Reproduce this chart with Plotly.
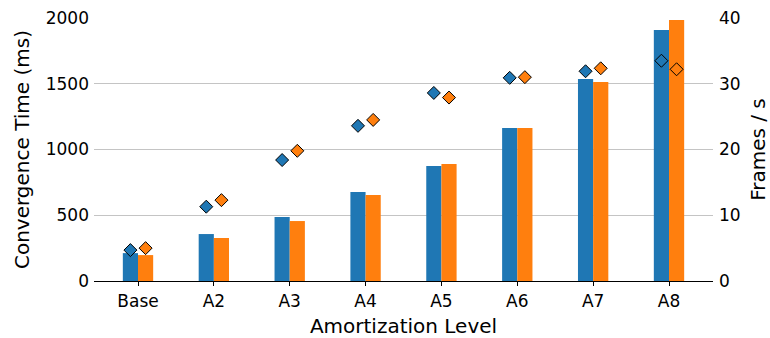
import plotly.graph_objects as go

categories = ["Base", "A2", "A3", "A4", "A5", "A6", "A7", "A8"]
conv_blue = [212, 357, 487, 677, 875, 1164, 1536, 1909]
conv_orange = [197, 327, 456, 654, 890, 1164, 1513, 1985]
fps_blue = [4.7, 11.3, 18.4, 23.6, 28.6, 30.9, 31.9, 33.5]
fps_orange = [5.0, 12.3, 19.8, 24.5, 27.9, 31.0, 32.35, 32.2]

BLUE = "#1f77b4"
ORANGE = "#ff7f0e"
FONT = "DejaVu Sans"

idx = list(range(len(categories)))

fig = go.Figure()
fig.add_trace(go.Bar(x=idx, y=conv_blue, width=0.2, offset=-0.2,
                     marker=dict(color=BLUE, line=dict(width=0)), showlegend=False))
fig.add_trace(go.Bar(x=idx, y=conv_orange, width=0.2, offset=0.0,
                     marker=dict(color=ORANGE, line=dict(width=0)), showlegend=False))
fig.add_trace(go.Scatter(x=[i - 0.1 for i in idx], y=fps_blue, yaxis="y2", mode="markers",
                         marker=dict(symbol="diamond", size=10, color=BLUE,
                                     line=dict(color="black", width=1)), showlegend=False))
fig.add_trace(go.Scatter(x=[i + 0.1 for i in idx], y=fps_orange, yaxis="y2", mode="markers",
                         marker=dict(symbol="diamond", size=10, color=ORANGE,
                                     line=dict(color="black", width=1)), showlegend=False))

fig.update_layout(
    width=770, height=338,
    margin=dict(l=94, r=57, t=18, b=57),
    paper_bgcolor="white", plot_bgcolor="white",
    font=dict(family=FONT, size=17, color="black"),
    xaxis=dict(range=[-0.58, 7.58], tickmode="array", tickvals=idx, ticktext=categories,
               showline=True, linecolor="black", linewidth=1.3, automargin=False,
               ticks="outside", ticklen=4, tickcolor="black", showgrid=False, zeroline=False,
               title=dict(text="Amortization Level", standoff=12)),
    yaxis=dict(range=[0, 2000], dtick=500, showgrid=True, gridcolor="#c4c4c4", gridwidth=1,
               zeroline=False, showline=False, ticks="", ticklabelstandoff=4, automargin=False,
               title=dict(text="Convergence Time (ms)", standoff=10)),
    yaxis2=dict(range=[0, 40], dtick=10, overlaying="y", side="right", showgrid=False,
                zeroline=False, showline=False, ticks="", ticklabelstandoff=5, automargin=False,
                title=dict(text="Frames / s", standoff=20)),
)

fig.write_html("out.html")
